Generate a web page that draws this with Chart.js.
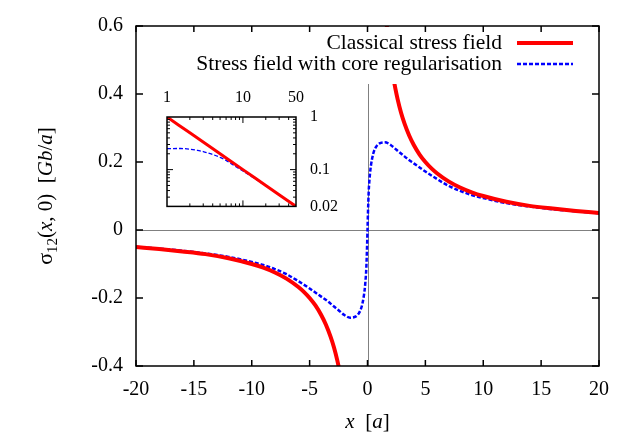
<!DOCTYPE html>
<html>
<head>
<meta charset="utf-8">
<script src="https://cdn.jsdelivr.net/npm/chart.js@4"></script>
<style>
  body { margin: 0; background: #fff; }
  #wrap { position: relative; width: 623px; height: 436px; }
  #main { position: absolute; left: 0; top: 0; }
  #inset { position: absolute; left: 150px; top: 80px; }
</style>
</head>
<body>
<div id="wrap">
  <canvas id="main" width="623" height="436"></canvas>
  <canvas id="inset" width="200" height="150"></canvas>
</div>
<script>
// classical field, left and right branch
const redNegX = [-20, -18, -16, -14, -12, -10, -9, -8, -7, -6, -5.5, -5, -4.5, -4, -3.6, -3.2, -2.9, -2.6, -2.4]
const redNegY = [-0.05, -0.056, -0.063, -0.071, -0.083, -0.1, -0.111, -0.125, -0.143, -0.167, -0.182, -0.2, -0.222, -0.25, -0.278, -0.313, -0.345, -0.385, -0.417]
const redPosX = [1.6, 1.8, 2, 2.2, 2.4, 2.6, 2.9, 3.2, 3.6, 4, 4.5, 5, 5.5, 6, 7, 8, 9, 10, 12, 14, 16, 18, 20]
const redPosY = [0.625, 0.556, 0.5, 0.455, 0.417, 0.385, 0.345, 0.313, 0.278, 0.25, 0.222, 0.2, 0.182, 0.167, 0.143, 0.125, 0.111, 0.1, 0.083, 0.071, 0.063, 0.056, 0.05]

// core regularised field
const blueX = [-20, -18, -16, -14, -12, -10, -9, -8, -7, -6, -5, -4, -3.5, -3, -2.5, -2, -1.5, -1, -0.75, -0.5, -0.3, -0.2, -0.1, -0.04, 0,
    0.04, 0.1, 0.2, 0.3, 0.5, 0.75, 1, 1.5, 2, 2.5, 3, 3.5, 4, 5, 6, 7, 8, 9, 10, 12, 14, 16, 18, 20]
const blueY = [-0.0495, -0.055, -0.061, -0.069, -0.079, -0.094, -0.103, -0.115, -0.13, -0.15, -0.172, -0.196, -0.208, -0.222, -0.236, -0.25, -0.258, -0.254, -0.245, -0.225, -0.19, -0.16, -0.11, -0.05, 0,
    0.05, 0.11, 0.16, 0.19, 0.225, 0.245, 0.254, 0.258, 0.25, 0.236, 0.222, 0.208, 0.196, 0.172, 0.15, 0.13, 0.115, 0.103, 0.094, 0.079, 0.069, 0.061, 0.055, 0.0495]

const xTicks = [-20, -15, -10, -5, 0, 5, 10, 15, 20]
const yTicks = [-0.4, -0.2, 0, 0.2, 0.4, 0.6]

// inset, log-log
const insetRedX = [1, 2, 5, 10, 20, 50]
const insetRedY = [1, 0.5, 0.2, 0.1, 0.05, 0.02]
const insetBlueX = [1, 1.5, 2, 2.5, 3, 3.5, 4, 5, 6, 7, 8, 10, 14, 20, 30, 40, 50]
const insetBlueY = [0.25, 0.252, 0.245, 0.233, 0.22, 0.206, 0.194, 0.171, 0.15, 0.13, 0.115, 0.094, 0.069, 0.0495, 0.033, 0.025, 0.02]
const insetXLabels = [1, 10, 50]
const insetYLabels = [0.02, 0.1, 1]
const insetXMinor = [2, 3, 4, 5, 6, 7, 8, 9, 20, 30, 40]
const insetYMinor = [0.03, 0.04, 0.05, 0.06, 0.07, 0.08, 0.09, 0.2, 0.3, 0.4, 0.5, 0.6, 0.7, 0.8, 0.9]

const RED = '#ff0000'
const BLUE = '#0000ff'
const SERIF = '"Liberation Serif", "DejaVu Serif", serif'

Chart.defaults.font.family = SERIF
Chart.defaults.color = '#000'

const pts = (xs, ys) => xs.map((x, i) => ({ x: x, y: ys[i] }))

// draw a line of text made of pieces with different fonts
function richWidth(ctx, parts) {
    let w = 0
    parts.forEach(p => { ctx.font = p.f; w += ctx.measureText(p.t).width })
    return w
}
function drawRich(ctx, parts, x, y) {
    let cx = x
    parts.forEach(p => {
        ctx.font = p.f
        ctx.fillText(p.t, cx, y + (p.dy || 0))
        cx += ctx.measureText(p.t).width
    })
}

const mainDecor = {
    id: 'mainDecor',
    beforeDatasetsDraw(chart) {
        const { ctx, chartArea: a, scales } = chart
        const x0 = scales.x.getPixelForValue(0)
        const y0 = scales.y.getPixelForValue(0)
        ctx.save()
        ctx.strokeStyle = '#808080'
        ctx.lineWidth = 1
        ctx.beginPath()
        ctx.moveTo(a.left, Math.round(y0) + 0.5); ctx.lineTo(a.right, Math.round(y0) + 0.5)
        ctx.moveTo(Math.round(x0) + 0.5, a.top); ctx.lineTo(Math.round(x0) + 0.5, a.bottom)
        ctx.stroke()
        ctx.restore()
    },
    afterDatasetsDraw(chart) {
        const { ctx, chartArea: a, scales } = chart
        ctx.save()
        // legend box
        ctx.fillStyle = '#fff'
        ctx.fillRect(186, a.top + 1, 396, 57)
        ctx.fillStyle = '#000'
        ctx.font = '21.5px ' + SERIF
        ctx.textAlign = 'right'
        ctx.textBaseline = 'middle'
        ctx.fillText('Classical stress field', 502, 43)
        ctx.fillText('Stress field with core regularisation', 502, 64)
        ctx.strokeStyle = RED
        ctx.lineWidth = 4
        ctx.beginPath(); ctx.moveTo(517, 43); ctx.lineTo(573, 43); ctx.stroke()
        ctx.strokeStyle = BLUE
        ctx.lineWidth = 2.5
        ctx.setLineDash([4, 2])
        ctx.beginPath(); ctx.moveTo(517, 64); ctx.lineTo(573, 64); ctx.stroke()
        ctx.setLineDash([])

        // frame and inward ticks
        ctx.strokeStyle = '#000'
        ctx.lineWidth = 1.5
        ctx.strokeRect(a.left, a.top, a.right - a.left, a.bottom - a.top)
        ctx.beginPath()
        xTicks.forEach(v => {
            const px = scales.x.getPixelForValue(v)
            ctx.moveTo(px, a.bottom); ctx.lineTo(px, a.bottom - 6)
            ctx.moveTo(px, a.top); ctx.lineTo(px, a.top + 6)
        })
        yTicks.forEach(v => {
            const py = scales.y.getPixelForValue(v)
            ctx.moveTo(a.left, py); ctx.lineTo(a.left + 7, py)
            ctx.moveTo(a.right, py); ctx.lineTo(a.right - 7, py)
        })
        ctx.stroke()
        ctx.restore()
    },
    afterDraw(chart) {
        const { ctx, chartArea: a } = chart
        ctx.save()
        ctx.fillStyle = '#000'
        ctx.textAlign = 'left'
        ctx.textBaseline = 'alphabetic'
        // x title
        const xt = [
            { t: 'x', f: 'italic 21px ' + SERIF },
            { t: '  [', f: '21px ' + SERIF },
            { t: 'a', f: 'italic 21px ' + SERIF },
            { t: ']', f: '21px ' + SERIF }
        ]
        const xw = richWidth(ctx, xt)
        drawRich(ctx, xt, (a.left + a.right) / 2 - xw / 2, 428)
        // y title
        const yt = [
            { t: 'σ', f: '22px ' + SERIF },
            { t: '12', f: '15px ' + SERIF, dy: 5 },
            { t: '(', f: '21px ' + SERIF },
            { t: 'x', f: 'italic 21px ' + SERIF },
            { t: ', 0)  [', f: '21px ' + SERIF },
            { t: 'Gb', f: 'italic 21px ' + SERIF },
            { t: '/', f: '21px ' + SERIF },
            { t: 'a', f: 'italic 21px ' + SERIF },
            { t: ']', f: '21px ' + SERIF }
        ]
        const yw = richWidth(ctx, yt)
        ctx.translate(52, (a.top + a.bottom) / 2)
        ctx.rotate(-Math.PI / 2)
        drawRich(ctx, yt, -yw / 2, 0)
        ctx.restore()
    }
}

new Chart(document.querySelector('#main'), {
    type: 'scatter',
    data: {
        datasets: [
            { data: pts(redNegX, redNegY), borderColor: RED, borderWidth: 4 },
            { data: pts(redPosX, redPosY), borderColor: RED, borderWidth: 4 },
            { data: pts(blueX, blueY), borderColor: BLUE, borderWidth: 2.5, borderDash: [4, 2] }
        ].map(d => Object.assign(d, { showLine: true, pointRadius: 0, cubicInterpolationMode: 'monotone' }))
    },
    options: {
        responsive: false,
        animation: false,
        events: [],
        devicePixelRatio: 1,
        layout: { padding: { top: 26, right: 24, left: 0, bottom: 0 } },
        plugins: { legend: { display: false }, tooltip: { enabled: false } },
        scales: {
            x: {
                type: 'linear', min: -20, max: 20,
                afterBuildTicks: s => { s.ticks = xTicks.map(v => ({ value: v })) },
                ticks: { font: { size: 20 }, padding: 12, maxRotation: 0, autoSkip: false },
                grid: { display: false, drawTicks: false },
                border: { display: false },
                afterFit: s => { s.height = 70 }
            },
            y: {
                type: 'linear', min: -0.4, max: 0.6,
                afterBuildTicks: s => { s.ticks = yTicks.map(v => ({ value: v })) },
                ticks: {
                    font: { size: 20 }, padding: 13, autoSkip: false,
                    callback: v => (Math.abs(v) < 1e-9 ? '0' : v.toFixed(1))
                },
                grid: { display: false, drawTicks: false },
                border: { display: false },
                afterFit: s => { s.width = 136 }
            }
        }
    },
    plugins: [mainDecor]
})

const insetDecor = {
    id: 'insetDecor',
    afterDatasetsDraw(chart) {
        const { ctx, chartArea: a, scales } = chart
        ctx.save()
        ctx.strokeStyle = '#000'
        ctx.lineWidth = 1.5
        ctx.strokeRect(a.left, a.top, a.right - a.left, a.bottom - a.top)
        ctx.lineWidth = 1
        ctx.beginPath()
        const xt = (v, len) => {
            const px = scales.x.getPixelForValue(v)
            ctx.moveTo(px, a.bottom); ctx.lineTo(px, a.bottom - len)
            ctx.moveTo(px, a.top); ctx.lineTo(px, a.top + len)
        }
        const yt = (v, len) => {
            const py = scales.y.getPixelForValue(v)
            ctx.moveTo(a.left, py); ctx.lineTo(a.left + len, py)
            ctx.moveTo(a.right, py); ctx.lineTo(a.right - len, py)
        }
        xt(10, 6)
        insetXMinor.forEach(v => xt(v, 3))
        yt(0.1, 6)
        insetYMinor.forEach(v => yt(v, 3))
        ctx.stroke()
        ctx.restore()
    }
}

new Chart(document.querySelector('#inset'), {
    type: 'scatter',
    data: {
        datasets: [
            { data: pts(insetRedX, insetRedY), borderColor: RED, borderWidth: 3 },
            { data: pts(insetBlueX, insetBlueY), borderColor: BLUE, borderWidth: 1.3, borderDash: [4, 2] }
        ].map(d => Object.assign(d, { showLine: true, pointRadius: 0, cubicInterpolationMode: 'monotone' }))
    },
    options: {
        responsive: false,
        animation: false,
        events: [],
        devicePixelRatio: 1,
        layout: { padding: { left: 17, bottom: 17, top: 0, right: 0 } },
        plugins: { legend: { display: false }, tooltip: { enabled: false } },
        scales: {
            x: {
                type: 'logarithmic', position: 'top', min: 1, max: 50,
                afterBuildTicks: s => { s.ticks = insetXLabels.map(v => ({ value: v })) },
                ticks: { font: { size: 16 }, padding: 10, maxRotation: 0, autoSkip: false, callback: v => String(v) },
                grid: { display: false, drawTicks: false },
                border: { display: false },
                afterFit: s => { s.height = 37 }
            },
            y: {
                type: 'logarithmic', position: 'right', min: 0.02, max: 1,
                afterBuildTicks: s => { s.ticks = insetYLabels.map(v => ({ value: v })) },
                ticks: { font: { size: 16 }, padding: 14, autoSkip: false, callback: v => String(v) },
                grid: { display: false, drawTicks: false },
                border: { display: false },
                afterFit: s => { s.width = 54 }
            }
        }
    },
    plugins: [insetDecor]
})
</script>
</body>
</html>
